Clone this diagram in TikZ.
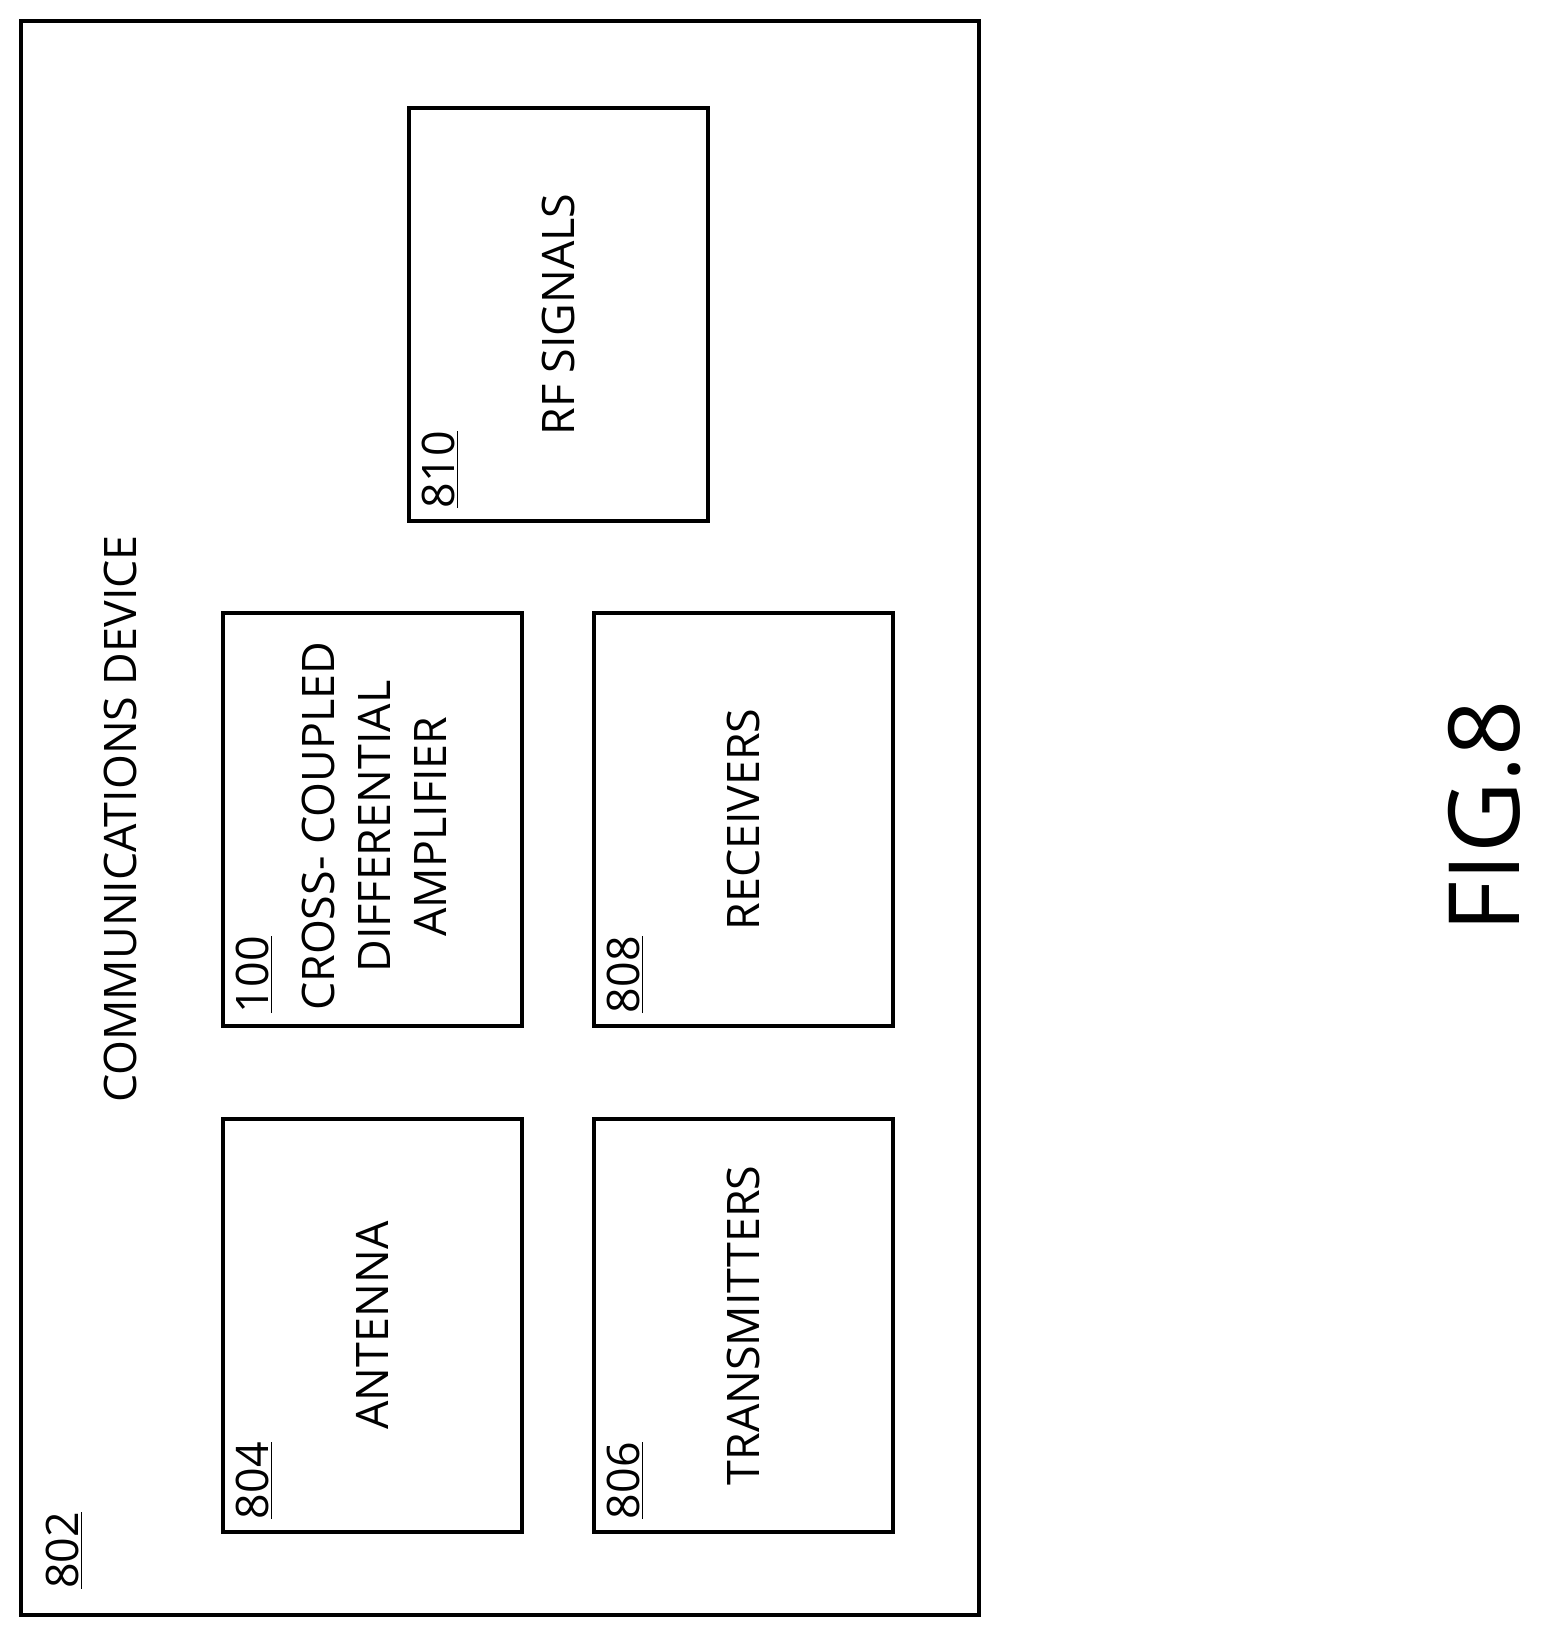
\documentclass[tikz,border=0pt]{standalone}
\usepackage{fontspec}
\setmainfont{Open Sans}
\usetikzlibrary{positioning}
\begin{document}
\begin{tikzpicture}[x=0.02cm,y=0.02cm,
every node/.style = {
font           = \fontsize{25.5}{32}\selectfont,
align          = center,
text           = black},
block/.style  = {
draw,
line width     = 1.8pt,
minimum width  = 5.98cm,
minimum height = 8.26cm,
inner sep      = 0pt},
vtext/.style  = {rotate=90},
refnum/.style = {rotate=90, anchor=north west, inner xsep=8pt, inner ysep=8pt}
]
\useasboundingbox (0,0) rectangle (1542,1638);
\draw[line width=2pt] (21,23) rectangle (979,1617);
\node[refnum,inner sep=0pt] (n802) at (46,49) {\underline{802}};
\node[vtext] (ndev) at (120,819) {COMMUNICATIONS DEVICE};
%
\node[block] (antenna) at (372.5,312.5) {};
\node[block] (tx) at (743.5,312.5) {};
\node[block] (amp) at (372.5,818.5) {};
\node[block] (rx) at (743.5,818.5) {};
\node[block] (rf) at (558.5,1323.5) {};
%
\node[refnum] (n804) at (antenna.south west) {\underline{804}};
\node[refnum] (n806) at (tx.south west) {\underline{806}};
\node[refnum] (n100) at (amp.south west) {\underline{100}};
\node[refnum] (n808) at (rx.south west) {\underline{808}};
\node[refnum] (n810) at (rf.south west) {\underline{810}};
%
\node[vtext] at (antenna.center) {ANTENNA};
\node[vtext] at (tx.center) {TRANSMITTERS};
\node[vtext] at ([xshift=1,yshift=-4]amp.center) {CROSS- COUPLED\\DIFFERENTIAL\\AMPLIFIER};
\node[vtext] at (rx.center) {RECEIVERS};
\node[vtext] at (rf.center) {RF SIGNALS};
%
\node[vtext,font=\fontsize{56}{60}\selectfont] (fig) at (1485,822) {FIG.8};
\end{tikzpicture}
\end{document}
